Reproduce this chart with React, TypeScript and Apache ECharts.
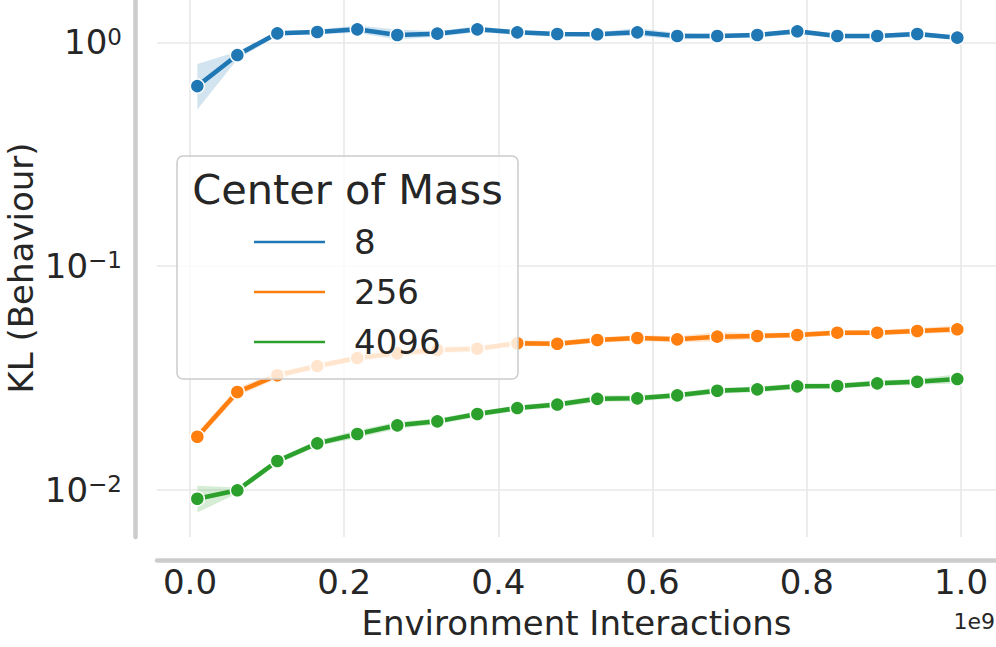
import React, { useEffect, useRef } from "react";
import * as echarts from "echarts";

// Environment interactions (in units of 1e9) at which each run was evaluated
const stepsE9 = [
  0.0095, 0.0614, 0.1133, 0.1651, 0.217, 0.2689, 0.3208, 0.3727, 0.4245, 0.4764,
  0.5283, 0.5802, 0.632, 0.6839, 0.7358, 0.7877, 0.8396, 0.8914, 0.9433, 0.9952,
];

const groups = ["8", "256", "4096"];
const colors = ["#1f77b4", "#ff7f0e", "#2ca02c"];

// Mean KL (Behaviour) per center-of-mass setting
const kl8 = [
  0.637, 0.877, 1.097, 1.112, 1.143, 1.078, 1.093, 1.143, 1.108, 1.089,
  1.086, 1.108, 1.067, 1.067, 1.078, 1.12, 1.067, 1.067, 1.089, 1.049,
];
const kl256 = [
  0.01722, 0.02729, 0.03243, 0.03566, 0.03873, 0.04065, 0.04207, 0.04264, 0.04508, 0.04488,
  0.04663, 0.04759, 0.04695, 0.04825, 0.0486, 0.04911, 0.05027, 0.05027, 0.05117, 0.05207,
];
const kl4096 = [
  0.00909, 0.00992, 0.01341, 0.01609, 0.01771, 0.01937, 0.02018, 0.02176, 0.02314, 0.02399,
  0.02544, 0.02557, 0.02637, 0.02765, 0.02806, 0.02894, 0.02903, 0.02985, 0.03034, 0.03119,
];

// Confidence interval bounds
const lo8 = [
  0.5, 0.84, 1.07, 1.09, 1.1, 1.03, 1.06, 1.11, 1.08, 1.06,
  1.06, 1.07, 1.03, 1.04, 1.05, 1.09, 1.04, 1.04, 1.06, 1.03,
];
const hi8 = [
  0.8, 0.91, 1.12, 1.14, 1.19, 1.14, 1.12, 1.18, 1.13, 1.11,
  1.11, 1.16, 1.1, 1.09, 1.1, 1.15, 1.09, 1.09, 1.12, 1.07,
];
const lo256 = [
  0.0165, 0.0262, 0.0313, 0.0345, 0.0375, 0.039, 0.0405, 0.0413, 0.0438, 0.0436,
  0.0453, 0.0462, 0.0455, 0.046, 0.0472, 0.0478, 0.0488, 0.049, 0.0497, 0.0503,
];
const hi256 = [
  0.018, 0.0285, 0.0335, 0.0368, 0.04, 0.0425, 0.0437, 0.044, 0.0465, 0.0462,
  0.048, 0.049, 0.0485, 0.0507, 0.05, 0.0505, 0.0518, 0.0516, 0.0527, 0.054,
];
const lo4096 = [
  0.0079, 0.0096, 0.013, 0.0156, 0.017, 0.0187, 0.0196, 0.0211, 0.0225, 0.0233,
  0.0246, 0.0248, 0.0256, 0.0268, 0.0272, 0.0281, 0.0283, 0.029, 0.0294, 0.0298,
];
const hi4096 = [
  0.0104, 0.0102, 0.0138, 0.0166, 0.0184, 0.0201, 0.0208, 0.0224, 0.0238, 0.0247,
  0.0263, 0.0264, 0.0271, 0.0285, 0.0289, 0.0298, 0.0299, 0.0307, 0.0313, 0.0328,
];

const means = [kl8, kl256, kl4096];
const lows = [lo8, lo256, lo4096];
const highs = [hi8, hi256, hi4096];

const FONT = "DejaVu Sans";
const TEXT = "#262626";
const SPINE = "#cccccc";
const GRID = "#e8e8e8";

function bandSeries(k: number) {
  const lo = lows[k];
  const hi = highs[k];
  const fill = echarts.color.modifyAlpha(colors[k], 0.2);
  return {
    type: "custom",
    name: groups[k] + " band",
    silent: true,
    clip: true,
    data: stepsE9.map((x, i) => [x, lo[i], hi[i]]),
    encode: { x: 0, y: [1, 2] },
    renderItem: (params: any, api: any) => {
      if (params.dataIndex !== 0) return null;
      const upper = stepsE9.map((x, i) => api.coord([x, hi[i]]));
      const lower = stepsE9.map((x, i) => api.coord([x, lo[i]])).reverse();
      return {
        type: "polygon",
        shape: { points: upper.concat(lower) },
        style: { fill, stroke: null },
      };
    },
  };
}

function lineSeries(k: number) {
  return {
    type: "line",
    name: groups[k],
    data: stepsE9.map((x, i) => [x, means[k][i]]),
    symbol: "circle",
    symbolSize: 14,
    showSymbol: true,
    lineStyle: { color: colors[k], width: 4.5 },
    itemStyle: { color: colors[k], borderColor: "#ffffff", borderWidth: 1.5 },
    emphasis: { disabled: true },
  };
}

function superscript(v: number) {
  const e = Math.round(Math.log10(v));
  const exp = e < 0 ? "\u2212" + String(-e) : String(e);
  return `{b|10}{s|${exp}}`;
}

export default function App() {
  const ref = useRef<HTMLDivElement>(null);

  useEffect(() => {
    if (!ref.current) return;
    const chart = echarts.init(ref.current, undefined, { renderer: "svg" });
    const series: any[] = [];
    for (let k = 0; k < groups.length; k++) {
      series.push(bandSeries(k));
      series.push(lineSeries(k));
    }
    chart.setOption({
      animation: false,
      textStyle: { fontFamily: FONT, color: TEXT },
      grid: {
        left: 157,
        right: 0,
        top: 0,
        bottom: 110,
        containLabel: false,
        outerBoundsMode: "none",
      },
      xAxis: {
        type: "value",
        min: -0.0428,
        max: 1.0454,
        splitNumber: 5,
        offset: 23,
        name: "Environment Interactions",
        nameLocation: "middle",
        nameGap: 46,
        nameTextStyle: { fontSize: 34, color: TEXT, fontFamily: FONT },
        axisLine: { show: true, onZero: false, lineStyle: { color: SPINE, width: 4.5 } },
        axisTick: { show: false },
        axisLabel: {
          fontSize: 34,
          color: TEXT,
          fontFamily: FONT,
          margin: 5,
          showMinLabel: false,
          showMaxLabel: false,
          formatter: (v: number) => v.toFixed(1),
        },
        splitLine: {
          show: true,
          showMinLine: false,
          showMaxLine: false,
          lineStyle: { color: GRID, width: 1.6 },
        },
      },
      yAxis: {
        type: "log",
        logBase: 10,
        min: 0.006133,
        max: 1.546,
        offset: 22,
        axisLine: { show: true, onZero: false, lineStyle: { color: SPINE, width: 4.5 } },
        axisTick: { show: false },
        minorTick: { show: false },
        axisLabel: {
          margin: 13,
          showMinLabel: false,
          showMaxLabel: false,
          formatter: superscript,
          rich: {
            b: { fontSize: 34, color: TEXT, fontFamily: FONT },
            s: { fontSize: 23, color: TEXT, fontFamily: FONT, verticalAlign: "top" },
          },
        },
        splitLine: {
          show: true,
          showMinLine: false,
          showMaxLine: false,
          lineStyle: { color: GRID, width: 1.6 },
        },
      },
      legend: {
        orient: "vertical",
        left: 252,
        top: 225,
        padding: 0,
        itemGap: 16,
        itemWidth: 73,
        itemHeight: 4.5,
        selectedMode: false,
        z: 12,
        data: groups.map((g) => ({ name: g, icon: "rect" })),
        textStyle: {
          fontSize: 34,
          color: TEXT,
          fontFamily: FONT,
          padding: [0, 0, 0, 23],
        },
      },
      graphic: [
        {
          type: "text",
          silent: true,
          x: 21,
          y: 268,
          rotation: Math.PI / 2,
          style: {
            text: "KL (Behaviour)",
            fontSize: 34,
            fontFamily: FONT,
            fill: TEXT,
            align: "center",
            verticalAlign: "middle",
          },
        },
        {
          type: "rect",
          z: 10,
          silent: true,
          shape: { x: 177, y: 156, width: 341, height: 223, r: 6 },
          style: { fill: "rgba(255,255,255,0.8)", stroke: SPINE, lineWidth: 1.5 },
        },
        {
          type: "text",
          z: 11,
          silent: true,
          x: 347.5,
          y: 189,
          style: {
            text: "Center of Mass",
            fontSize: 41.5,
            fontFamily: FONT,
            fill: TEXT,
            align: "center",
            verticalAlign: "middle",
          },
        },
        {
          type: "text",
          z: 11,
          silent: true,
          x: 995,
          y: 621,
          style: {
            text: "1e9",
            fontSize: 22,
            fontFamily: FONT,
            fill: TEXT,
            align: "right",
            verticalAlign: "middle",
          },
        },
      ],
      series,
    });
    return () => chart.dispose();
  }, []);

  return (
    <div
      ref={ref}
      style={{ position: "fixed", left: 0, top: 0, width: 996, height: 647, background: "#ffffff" }}
    />
  );
}
